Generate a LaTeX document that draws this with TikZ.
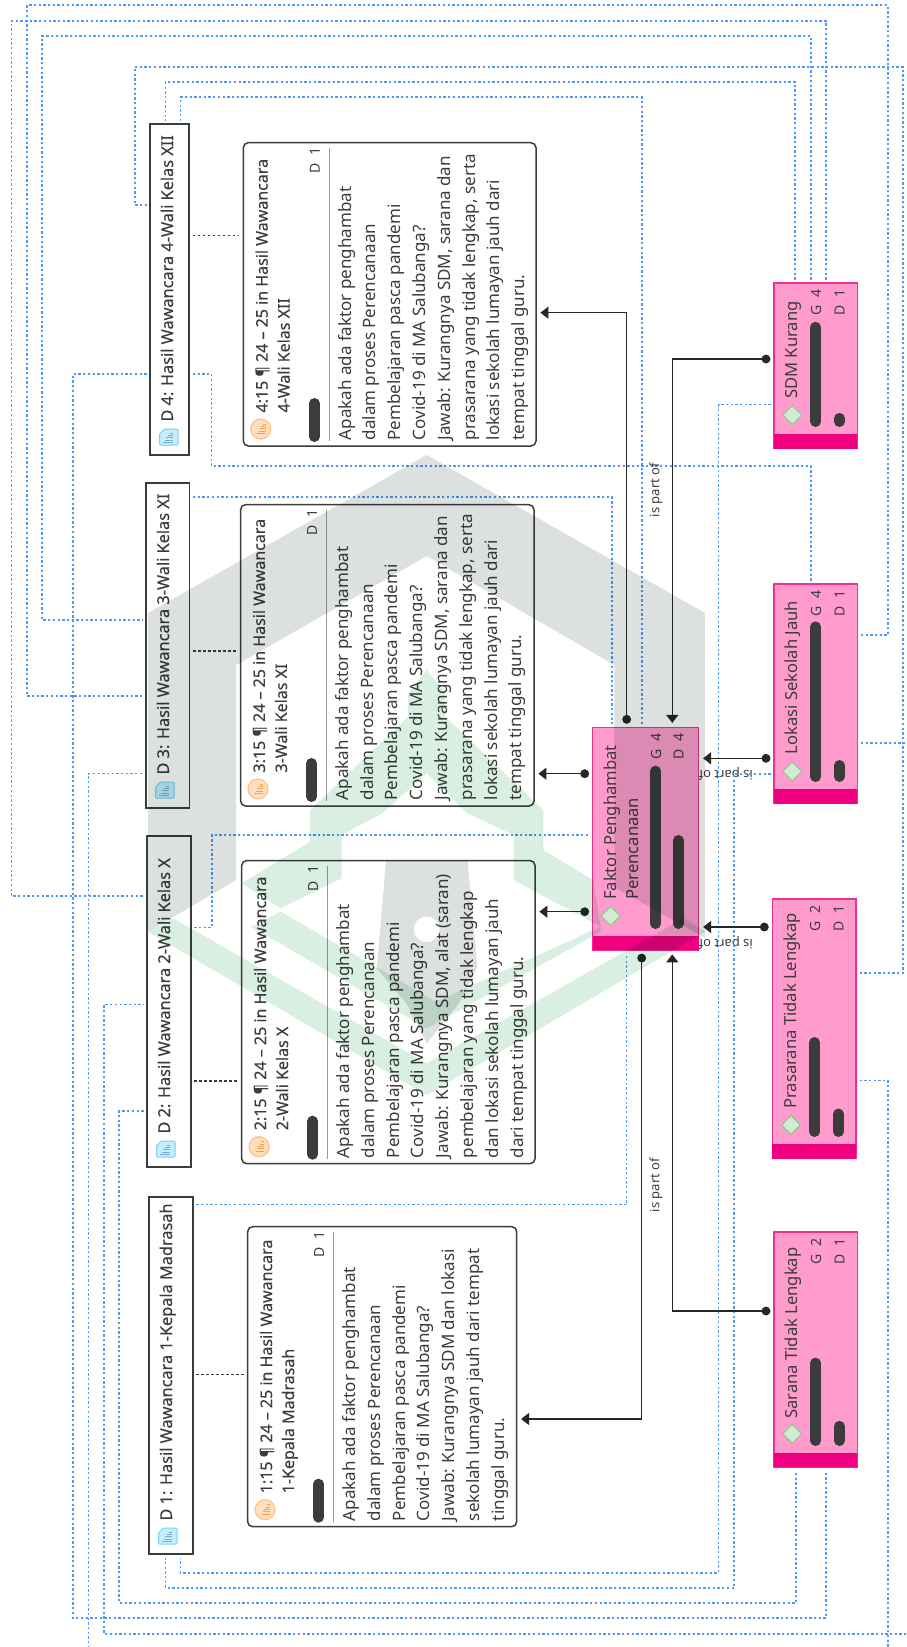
\documentclass[tikz,border=0pt]{standalone}
\usepackage{fontspec}
\setmainfont{Noto Sans}
\newfontfamily\semifont[FakeBold=0.2]{Noto Sans}
\usetikzlibrary{arrows.meta}
\definecolor{ink}{HTML}{3C3C3C}
\definecolor{lnkblue}{HTML}{4A98F7}
\definecolor{pinkfill}{HTML}{FF9CCD}
\definecolor{pinkline}{HTML}{F0308C}
\definecolor{pinkband}{HTML}{F0007F}
\definecolor{wmgray}{HTML}{DCE1DF}
\definecolor{wmgreen}{HTML}{D9EFE2}
\tikzset{
  lnk/.style={draw=lnkblue,line width=1.7pt,dash pattern=on 2.3pt off 2.4pt,shorten <=3.5pt,shorten >=3.5pt},
  tie/.style={draw=ink,line width=1.5pt,dash pattern=on 2.6pt off 2.4pt,shorten <=3.5pt,shorten >=4pt},
  rel/.style={draw=black!85,line width=1.5pt,{Circle[length=8.8pt]}-{Triangle[length=8pt,width=12pt]},shorten <=3.6pt,shorten >=4.4pt},
  docbox/.style={draw=ink,line width=1.8pt,fill=white},
  quotebox/.style={draw=ink,line width=1.5pt,fill=white,rounded corners=5pt},
  conceptbox/.style={draw=pinkline,line width=1.5pt,fill=pinkfill},
  rottext/.style={rotate=90,inner sep=0pt,text=ink},
  dtitle/.style={rottext,anchor=base west,font=\semifont\fontsize{16.3}{18}\selectfont},
  qtitle/.style={rottext,anchor=north west,align=left,font=\semifont\fontsize{16}{22}\selectfont},
  qbody/.style={rottext,anchor=north west,align=left,font=\fontsize{17}{24.8}\selectfont},
  ctitle/.style={rottext,anchor=north west,align=left,font=\fontsize{16.6}{21.5}\selectfont},
  small/.style={rottext,anchor=base east,font=\fontsize{14}{15}\selectfont},
  relabel/.style={inner sep=0pt,text=ink,font=\fontsize{13}{15}\selectfont},
  barline/.style={draw=ink,line width=10.6pt,line cap=round},
  wm/.style={blend mode=multiply,draw=none}
}
\newcommand{\bx}[6]{\node[#6,minimum width={(#4-#2)*1pt},minimum height={(#5-#3)*1pt},inner sep=0pt,outer sep=0pt] (#1) at ({(#2+#4)/2},{(#3+#5)/2}) {};}
\newcommand{\dbox}[6]{%
  \bx{#1}{#2}{#3}{#4}{#5}{docbox}
  \draw[draw=cyan!55,fill=cyan!22,line width=1pt,rounded corners=1pt,line join=round]
    ({#2+9.5},{#5-21}) -- ({#2+14.5},{#5-26}) -- ({#2+28},{#5-26}) -- ({#2+28},{#5-10}) -- ({#2+9.5},{#5-10}) -- cycle;
  \foreach \i in {0,...,4}{\draw[draw=cyan!60!blue!55,line width=.9pt] ({#2+22.5},{#5-22+\i*2.4}) -- ({#2+22.5-3-\i*1.6},{#5-22+\i*2.4});}
  \node[dtitle] (#1t) at ({#2+23},{#5-33.3}) {#6};
}
\newcommand{\qbox}[7]{%
  \bx{#1}{#2}{#3}{#4}{#5}{quotebox}
  \draw[draw=orange!50,fill=orange!25,line width=1.1pt] ({#2+17.4},{#5-17}) circle (10pt);
  \foreach \i in {0,...,4}{\draw[draw=orange!75,line width=.9pt] ({#2+22.4},{#5-22+\i*2.4}) -- ({#2+22.4-3-\i*1.4},{#5-22+\i*2.4});}
  \node[qtitle] (#1t) at ({#2+12},{#5-33.3}) {#6};
  \draw[barline] ({#2+71},{#5-42.7}) -- ({#2+71},{#5-9.3});
  \draw[draw=black!40,line width=1pt] ({#2+86},{#3+5}) -- ({#2+86},{#5-5});
  \node[small] (#1d) at ({#2+76.5},{#3+5}) {D\hspace{.55em}1};
  \node[qbody] (#1b) at ({#2+94.5},{#5-5.5}) {#7};
}
\newcommand{\cbox}[6]{%
  \bx{#1}{#2}{#3}{#4}{#5}{conceptbox}
  \fill[pinkband] (#2,#6) rectangle (#4,#5);
}
\newcommand{\cicon}[2]{\draw[draw=green!55!black!45,fill=green!10!white!92!black,line width=1.1pt] ({#1-9.5},#2) -- (#1,{#2-9.5}) -- ({#1+9.5},#2) -- (#1,{#2+9.5}) -- cycle;}
\begin{document}
\begin{tikzpicture}[x=1pt,y=-1pt]
\useasboundingbox (0,0) rectangle (907,1647);
\clip (0,0) rectangle (907,1647);
\fill[white] (0,0) rectangle (907,1647);

\dbox{dfour}{150}{124.3}{189.3}{455}{D 4: Hasil Wawancara 4-Wali Kelas XII}
\dbox{dthree}{146}{483}{189.5}{808}{D 3: Hasil Wawancara 3-Wali Kelas XI}
\dbox{dtwo}{147}{835.6}{190.7}{1167}{D 2: Hasil Wawancara 2-Wali Kelas X}
\dbox{done}{149}{1197}{192.7}{1554}{D 1: Hasil Wawancara 1-Kepala Madrasah}

\qbox{qfour}{243.3}{142.7}{536}{446}{4:15 ¶ 24 – 25 in Hasil Wawancara\\4-Wali Kelas XII}{Apakah ada faktor penghambat\\dalam proses Perencanaan\\Pembelajaran pasca pandemi\\Covid-19 di MA Salubanga?\\Jawab: Kurangnya SDM, sarana dan\\prasarana yang tidak lengkap, serta\\lokasi sekolah lumayan jauh dari\\tempat tinggal guru.}
\qbox{qthree}{240.6}{504.7}{534}{806}{3:15 ¶ 24 – 25 in Hasil Wawancara\\3-Wali Kelas XI}{Apakah ada faktor penghambat\\dalam proses Perencanaan\\Pembelajaran pasca pandemi\\Covid-19 di MA Salubanga?\\Jawab: Kurangnya SDM, sarana dan\\prasarana yang tidak lengkap, serta\\lokasi sekolah lumayan jauh dari\\tempat tinggal guru.}
\qbox{qtwo}{241.7}{860.5}{535}{1163.7}{2:15 ¶ 24 – 25 in Hasil Wawancara\\2-Wali Kelas X}{Apakah ada faktor penghambat\\dalam proses Perencanaan\\Pembelajaran pasca pandemi\\Covid-19 di MA Salubanga?\\Jawab: Kurangnya SDM, alat (saran)\\pembelajaran yang tidak lengkap\\dan lokasi sekolah lumayan jauh\\dari tempat tinggal guru.}
\qbox{qone}{247.7}{1226.7}{516.7}{1526.7}{1:15 ¶ 24 – 25 in Hasil Wawancara\\1-Kepala Madrasah}{Apakah ada faktor penghambat\\dalam proses Perencanaan\\Pembelajaran pasca pandemi\\Covid-19 di MA Salubanga?\\Jawab: Kurangnya SDM dan lokasi\\sekolah lumayan jauh dari tempat\\tinggal guru.}

\node[relabel,rotate=180,anchor=west] (lblc) at (753,774) {is part of};
\node[relabel,rotate=180,anchor=west] (lbld) at (753,943) {is part of};

\cbox{fak}{592.7}{727.3}{698.7}{950}{935.7}
\cbox{sdm}{774}{283}{857.3}{448.6}{434}
\cbox{lok}{774}{584}{857.3}{803.6}{789}
\cbox{pra}{772.3}{899}{856}{1158.6}{1144}
\cbox{sar}{774}{1232}{857.3}{1467.4}{1453}

\cicon{610.7}{916}
\node[ctitle] (fakt) at (604,900) {Faktor Penghambat\\Perencanaan};
\draw[barline] (655.7,771) -- (655.7,923.7);
\draw[barline] (678.3,840.3) -- (678.3,923.7);
\node[small] (fakg) at (661,733.3) {G\hspace{.55em}4};
\node[small] (fakd) at (683.5,733.3) {D\hspace{.55em}4};

\cicon{792.3}{415}
\node[ctitle] (sdmt) at (785,399) {SDM Kurang};
\draw[barline] (815.7,327.1) -- (815.7,421.7);
\draw[barline] (839.3,418.2) -- (839.3,421.7);
\node[small] (sdmg) at (821,289) {G\hspace{.55em}4};
\node[small] (sdmd) at (844.5,289) {D\hspace{.55em}1};

\cicon{792.3}{771.4}
\node[ctitle] (lokt) at (785,754.6) {Lokasi Sekolah Jauh};
\draw[barline] (815.7,626.7) -- (815.7,776.7);
\draw[barline] (839.3,765.3) -- (839.3,776.7);
\node[small] (lokg) at (821,590) {G\hspace{.55em}4};
\node[small] (lokd) at (844.5,590) {D\hspace{.55em}1};

\cicon{791}{1125}
\node[ctitle] (prat) at (783.5,1109) {Prasarana Tidak Lengkap};
\draw[barline] (814.7,1042.3) -- (814.7,1131.7);
\draw[barline] (838.3,1113.8) -- (838.3,1131.7);
\node[small] (prag) at (820,905) {G\hspace{.55em}2};
\node[small] (prad) at (843.5,905) {D\hspace{.55em}1};

\cicon{792.3}{1433.8}
\node[ctitle] (sart) at (785,1419) {Sarana Tidak Lengkap};
\draw[barline] (815.7,1362.9) -- (815.7,1440.7);
\draw[barline] (839.3,1426.1) -- (839.3,1440.7);
\node[small] (sarg) at (821,1238) {G\hspace{.55em}2};
\node[small] (sard) at (844.5,1238) {D\hspace{.55em}1};

\draw[lnk] (lok.east |- 0,635) -- (888,635) -- (888,5.3) -- (27,5.3) -- (27,696) -- (dthree.west |- 0,696);
\draw[lnk] (sdm.north -| 826,0) -- (826,20.7) -- (11.5,20.7) -- (11.5,896) -- (dtwo.west |- 0,896);
\draw[lnk] (sdm.north -| 811,0) -- (811,36) -- (42,36) -- (42,620) -- (dthree.west |- 0,620);
\draw[lnk] (pra.east |- 0,973) -- (903,973) -- (903,66.7) -- (135,66.7) -- (135,205) -- (dfour.west |- 0,205);
\draw[lnk] (sdm.north -| 795.3,0) -- (795.3,82) -- (165.4,82) -- (dfour.north -| 165.4,0);
\draw[lnk] (fak.north -| 641.7,0) -- (641.7,97.3) -- (180.4,97.3) -- (dfour.north -| 180.4,0);
\draw[lnk] (sdm.west |- 0,404.6) -- (718.5,404.6) -- (718.5,1572.7) -- (180.4,1572.7) -- (done.south -| 180.4,0);
\draw[lnk] (dfour.east |- 0,374) -- (211.5,374) -- (211.5,466) -- (811,466) -- (lok.north -| 811,0);
\draw[lnk] (dfour.west |- 0,374) -- (73,374) -- (73,1618) -- (826,1618) -- (sar.south -| 826,0);
\draw[lnk] (lok.west |- 0,774) -- (734,774) -- (734,1588) -- (165.4,1588) -- (done.south -| 165.4,0);
\draw[lnk] (lok.east |- 0,742.7) -- (915,742.7) -- (915,1634) -- (104,1634) -- (104,1004.4) -- (dtwo.west |- 0,1004.4);
\draw[lnk] (pra.east |- 0,1080.5) -- (888,1080.5) -- (888,1660) -- (88.5,1660) -- (88.5,773.6) -- (dthree.west |- 0,773.6);
\draw[lnk] (dtwo.east |- 0,927.5) -- (211.7,927.5) -- (211.7,835) -- (fak.west |- 0,835);
\draw[lnk] (dtwo.west |- 0,1111) -- (119.3,1111) -- (119.3,1603) -- (796,1603) -- (sar.south -| 796,0);
\draw[lnk] (dthree.east |- 0,497) -- (611.7,497) -- (fak.north -| 611.7,0);
\draw[lnk] (done.east |- 0,1204.6) -- (626.5,1204.6) -- (fak.south -| 626.5,0);

\draw[tie] (dfour.east |- 0,235.7) -- (qfour.west |- 0,235.7);
\draw[tie] (dthree.east |- 0,650.8) -- (qthree.west |- 0,650.8);
\draw[tie] (dtwo.east |- 0,1081) -- (qtwo.west |- 0,1081);
\draw[tie] (done.east |- 0,1374.5) -- (qone.west |- 0,1374.5);

\draw[rel] (fak.north -| 626.7,0) -- (626.7,312.7) -- (qfour.east |- 0,312.7);
\draw[rel] (sdm.west |- 0,359) -- (672.3,359) -- (fak.north -| 672.3,0);
\draw[rel] (fak.west |- 0,773.7) -- (qthree.east |- 0,773.7);
\draw[rel] (fak.west |- 0,911.7) -- (qtwo.east |- 0,911.7);
\draw[rel] (lok.west |- 0,758.3) -- (fak.east |- 0,758.3);
\draw[rel] (pra.west |- 0,927) -- (fak.east |- 0,927);
\draw[rel] (fak.south -| 641.7,0) -- (641.7,1419) -- (qone.east |- 0,1419);
\draw[rel] (sar.west |- 0,1311) -- (672.3,1311) -- (fak.south -| 672.3,0);

\node[relabel,rotate=90] (lbla) at (656,490) {is part of};
\node[relabel,rotate=90] (lblb) at (656,1185) {is part of};

\begin{scope}[shift={(140,650)}]
\begin{scope}[x=0.36996pt,y=-0.33333pt]
\path[wm,fill=wmgray,even odd rule]
  (775,-585) -- (1527,-111) -- (1527,864) -- (1282,711) -- (1282,45) -- (775,-282) -- (260,45) -- (260,690) -- (22,845) -- (22,-111) -- cycle;
\path[wm,fill=wmgray,even odd rule]
  (665,632) -- (885,632) -- (912,950) -- (862,1060) -- (775,1180) -- (720,1060) -- (640,955) -- cycle
  (775,838) ellipse [x radius=13pt,y radius=13pt];
\path[wm,fill=wmgreen]
  (275,700) -- (460,575) -- (460,480) -- (725,200) -- (725,130) -- (775,60) -- (825,130) -- (825,200) -- (1090,480) -- (1090,600) -- (1225,690) -- (1245,830) -- (1010,690) -- (1010,555) -- (885,490) -- (775,370) -- (655,490) -- (545,555) -- (545,685) -- (380,775) -- cycle;
\path[wm,fill=wmgreen]
  (22,845) -- (90,805) -- (775,1240) -- (1470,805) -- (1527,845) -- (775,1335) -- cycle;
\path[wm,fill=wmgreen]
  (300,830) -- (380,785) -- (800,1055) -- (1245,830) -- (1245,845) -- (775,1135) -- cycle;
\end{scope}
\end{scope}
\end{tikzpicture}
\end{document}
